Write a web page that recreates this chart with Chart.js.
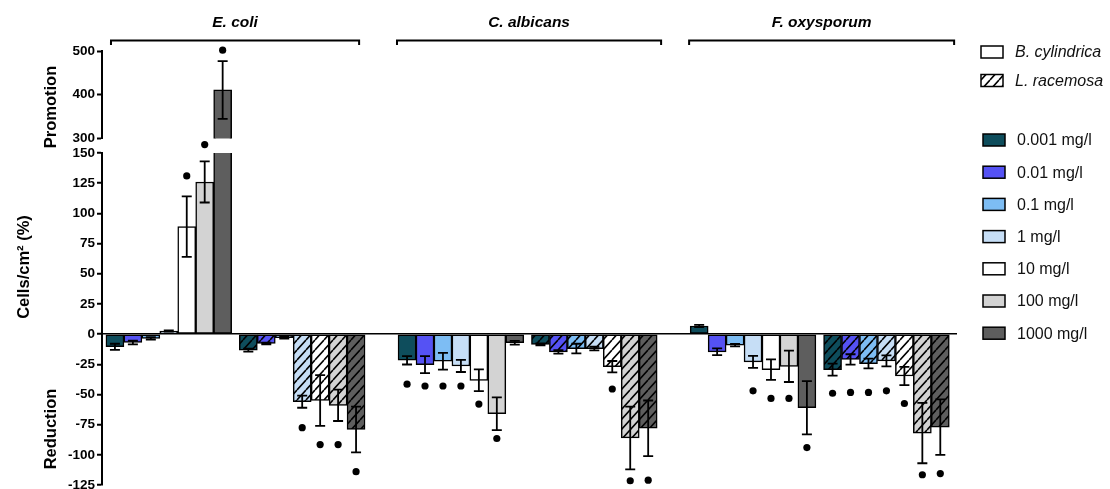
<!DOCTYPE html>
<html><head><meta charset="utf-8">
<script src="https://cdn.jsdelivr.net/npm/chart.js@4/dist/chart.umd.min.js"></script>
<style>html,body{margin:0;padding:0;background:#fff;}canvas{display:block}</style>
</head><body>
<canvas id="c" width="1110" height="489"></canvas>
<script>
// ---------------- DATA ----------------
const ORGANISMS = ['E. coli', 'C. albicans', 'F. oxysporum'];
const SPECIES = ['B. cylindrica', 'L. racemosa'];
const CONCENTRATIONS = ['0.001 mg/l', '0.01 mg/l', '0.1 mg/l', '1 mg/l', '10 mg/l', '100 mg/l', '1000 mg/l'];

// Cells/cm2 (%) per concentration (0.001 ... 1000 mg/l)
const ECOLI_BCYL = [-10.5, -7, -3.5, 2.5, 89, 126, 411];
const ECOLI_LRAC = [-13.3, -7.8, -3, -56, -55, -59, -79];
const CALB_BCYL  = [-21.7, -25.3, -22.5, -26.4, -38.3, -66, -7.2];
const CALB_LRAC  = [-8.6, -14.7, -12, -12, -27, -86, -78];
const FOXY_BCYL  = [6.7, -14.7, -9.2, -23, -29.4, -26.7, -61];
const FOXY_LRAC  = [-29.4, -21, -24.4, -22.2, -34.7, -82, -77];

// error (± SD)
const ECOLI_BCYL_ERR = [2.5, 1.5, 1, 0.5, 25, 17, 66];
const ECOLI_LRAC_ERR = [1.3, 0.8, 0.8, 5, 21, 13, 19];
const CALB_BCYL_ERR  = [3.5, 7, 7, 5, 9, 13.5, 1.5];
const CALB_LRAC_ERR  = [0.8, 1.5, 4, 1.5, 4.7, 26, 23];
const FOXY_BCYL_ERR  = [1, 2.8, 1, 5, 8.5, 13, 22];
const FOXY_LRAC_ERR  = [5, 4.3, 4, 4.5, 7.6, 25, 23];

// significance marker (●) level, null = none
const ECOLI_BCYL_SIG = [null, null, null, null, 131, 157, 502];
const ECOLI_LRAC_SIG = [null, null, null, -77.5, -91.5, -91.5, -114];
const CALB_BCYL_SIG  = [-41.5, -43, -43, -43, -58, -86.5, null];
const CALB_LRAC_SIG  = [null, null, null, null, -45.5, -121.5, -121];
const FOXY_BCYL_SIG  = [null, null, null, -47, -53.3, -53.3, -94];
const FOXY_LRAC_SIG  = [-49, -48.3, -48.3, -47, -57.5, -116.5, -115.5];

const LOWER_TICKS = [-125, 150, 25];   // min, max, step
const UPPER_TICKS = [300, 500, 100];

// ---------------- STYLE / LAYOUT ----------------
const CONC_COLORS = ['#0e4d5c', '#5552f4', '#7dbdf4', '#c6def6', '#ffffff', '#d3d3d3', '#5e5e5e'];
const FONT = "'Liberation Sans', Arial, sans-serif";
const ORG_PITCH = 16.27, SPECIES_PITCH = 7.43;   // in bar-slot units
const BRACKETS = [[0.28, 14.1], [-0.06, 14.65], [-0.06, 14.7]];

const MEAN = [[ECOLI_BCYL, CALB_BCYL, FOXY_BCYL], [ECOLI_LRAC, CALB_LRAC, FOXY_LRAC]];
const ERR  = [[ECOLI_BCYL_ERR, CALB_BCYL_ERR, FOXY_BCYL_ERR], [ECOLI_LRAC_ERR, CALB_LRAC_ERR, FOXY_LRAC_ERR]];
const SIG  = [[ECOLI_BCYL_SIG, CALB_BCYL_SIG, FOXY_BCYL_SIG], [ECOLI_LRAC_SIG, CALB_LRAC_SIG, FOXY_LRAC_SIG]];

const canvas = document.getElementById('c');
const ctx = canvas.getContext('2d');

function hatch(color) {
  const w = 9, h = 10;
  const t = document.createElement('canvas'); t.width = w; t.height = h;
  const g = t.getContext('2d');
  g.fillStyle = color; g.fillRect(0, 0, w, h);
  g.strokeStyle = '#000'; g.lineWidth = 1.6;
  g.beginPath();
  for (const dx of [-w, 0, w]) { g.moveTo(dx, h); g.lineTo(dx + w, 0); }
  g.stroke();
  return ctx.createPattern(t, 'repeat');
}
const xPos = (o, s, c) => o * ORG_PITCH + s * SPECIES_PITCH + c + 0.5;

const datasets = [];
['low', 'top'].forEach(part => {
  SPECIES.forEach((sp, s) => {
    CONCENTRATIONS.forEach((conc, c) => {
      datasets.push({
        label: sp + ' ' + conc,
        part, s, c,
        yAxisID: part === 'low' ? 'y' : 'yTop',
        backgroundColor: s === 0 ? CONC_COLORS[c] : hatch(CONC_COLORS[c]),
        data: ORGANISMS.map((_, o) => ({ x: xPos(o, s, c), y: MEAN[s][o][c] })),
        err: ORGANISMS.map((_, o) => ERR[s][o][c]),
        sig: ORGANISMS.map((_, o) => SIG[s][o][c])
      });
    });
  });
});

function fixW(scale) { scale.width = 60; scale.paddingTop = 0; scale.paddingBottom = 0; }
const tickFont = { family: FONT, size: 13.5, weight: 'bold' };

const decor = {
  id: 'decor',
  afterDatasetsDraw(chart) {
    const g = chart.ctx, yLow = chart.scales.y, yTop = chart.scales.yTop;
    g.save();
    g.strokeStyle = '#000'; g.fillStyle = '#000'; g.lineWidth = 1.8;
    chart.data.datasets.forEach((ds, di) => {
      if (ds.part !== 'low') return;
      const meta = chart.getDatasetMeta(di);
      meta.data.forEach((el, i) => {
        const m = ds.data[i].y, e = ds.err[i];
        const sc = m > yLow.max ? yTop : yLow;
        const x = el.x;
        const a = sc.getPixelForValue(m - e), b = sc.getPixelForValue(m + e);
        g.beginPath();
        g.moveTo(x, a); g.lineTo(x, b);
        g.moveTo(x - 5, a); g.lineTo(x + 5, a);
        g.moveTo(x - 5, b); g.lineTo(x + 5, b);
        g.stroke();
        const sv = ds.sig[i];
        if (sv !== null && sv !== undefined) {
          const ss = sv > yTop.min ? yTop : yLow;
          g.beginPath(); g.arc(x, ss.getPixelForValue(sv), 3.6, 0, Math.PI * 2); g.fill();
        }
      });
    });
    g.restore();
  },
  afterDraw(chart) {
    const g = chart.ctx, xs = chart.scales.x;
    g.save();
    g.fillStyle = '#000'; g.strokeStyle = '#000';
    const vtext = (txt, x, y) => {
      g.save(); g.translate(x, y); g.rotate(-Math.PI / 2);
      g.textAlign = 'center'; g.textBaseline = 'middle'; g.fillText(txt, 0, 0); g.restore();
    };
    g.font = 'bold 16.5px ' + FONT;
    vtext('Promotion', 51, 107);
    vtext('Reduction', 51, 429);
    vtext('Cells/cm² (%)', 24, 267);
    ORGANISMS.forEach((name, o) => {
      const x0 = xs.getPixelForValue(o * ORG_PITCH + BRACKETS[o][0]);
      const x1 = xs.getPixelForValue(o * ORG_PITCH + BRACKETS[o][1]);
      g.lineWidth = 2;
      g.beginPath();
      g.moveTo(x0, 45); g.lineTo(x0, 40.5); g.lineTo(x1, 40.5); g.lineTo(x1, 45);
      g.stroke();
      g.font = 'italic bold 15.5px ' + FONT;
      g.textAlign = 'center'; g.textBaseline = 'alphabetic';
      g.fillText(name, (x0 + x1) / 2, 27);
    });
    g.lineWidth = 1.5;
    g.textAlign = 'left'; g.textBaseline = 'middle';
    const box = (x, y, fill) => {
      g.fillStyle = fill; g.fillRect(x, y - 6, 22, 12);
      g.strokeStyle = '#000'; g.strokeRect(x, y - 6, 22, 12);
    };
    SPECIES.forEach((sp, s) => {
      const y = 52 + s * 28.5;
      box(981, y, s === 0 ? '#fff' : hatch('#fff'));
      g.fillStyle = '#111'; g.font = 'italic 16px ' + FONT;
      g.fillText(sp, 1015, y + 1);
    });
    CONCENTRATIONS.forEach((c, i) => {
      const y = 140 + i * 32.2;
      box(983, y, CONC_COLORS[i]);
      g.fillStyle = '#111'; g.font = '16px ' + FONT;
      g.fillText(c, 1017, y + 1);
    });
    g.restore();
  }
};

new Chart(ctx, {
  type: 'bar',
  data: { datasets },
  options: {
    responsive: false, animation: false,
    layout: { padding: { left: 42, right: 153, top: 51, bottom: 4 } },
    plugins: { legend: { display: false }, tooltip: { enabled: false } },
    datasets: { bar: { grouped: false, barThickness: 18, borderColor: '#000', borderWidth: 1.5, borderSkipped: false } },
    scales: {
      x: { type: 'linear', display: false, offset: false, grid: { offset: false }, min: -0.22, max: 47.4 },
      yTop: {
        type: 'linear', position: 'left', stack: 'ys', stackWeight: 87.5, weight: 3,
        min: UPPER_TICKS[0], max: UPPER_TICKS[1],
        ticks: { stepSize: UPPER_TICKS[2], color: '#000', font: tickFont, padding: 2, autoSkip: false },
        grid: { drawOnChartArea: false, tickColor: '#000', tickLength: 5, tickWidth: 2 },
        border: { color: '#000', width: 2 },
        afterFit: fixW
      },
      yGap: {
        type: 'linear', position: 'left', stack: 'ys', stackWeight: 14.5, weight: 2,
        min: 0, max: 1,
        ticks: { display: false }, grid: { display: false }, border: { display: false },
        afterFit: fixW
      },
      y: {
        type: 'linear', position: 'left', stack: 'ys', stackWeight: 332, weight: 1,
        min: LOWER_TICKS[0], max: LOWER_TICKS[1],
        ticks: { stepSize: LOWER_TICKS[2], color: '#000', font: tickFont, padding: 2, autoSkip: false },
        grid: {
          drawOnChartArea: true,
          color: c => (c.tick && c.tick.value === 0) ? '#000' : 'rgba(0,0,0,0)',
          lineWidth: 1.5, tickColor: '#000', tickLength: 5, tickWidth: 2
        },
        border: { color: '#000', width: 2 },
        afterFit: fixW
      }
    }
  },
  plugins: [decor]
});
</script>
</body></html>
